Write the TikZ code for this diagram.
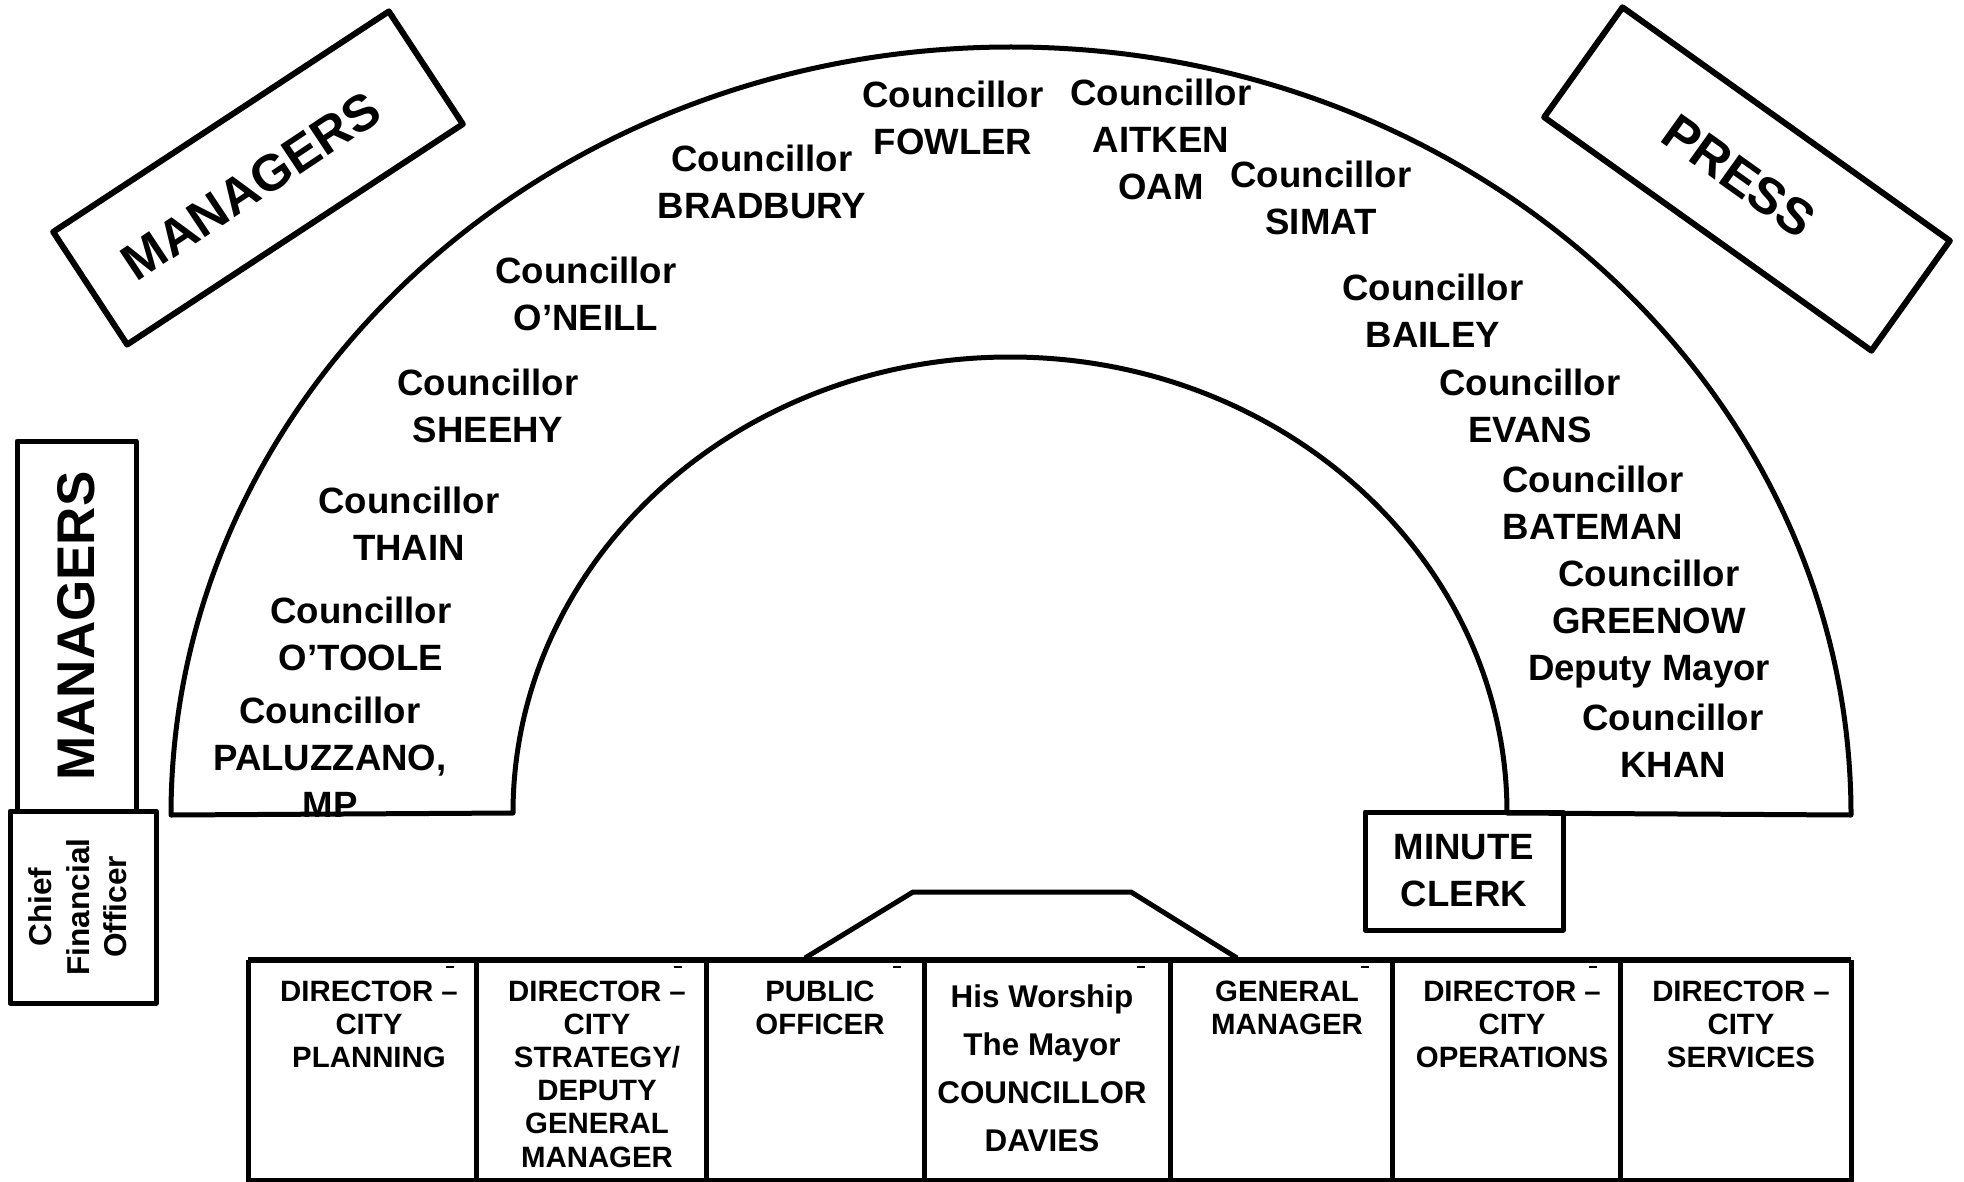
\documentclass[tikz,border=0pt]{standalone}
\usepackage{fontspec}
\setmainfont{Liberation Sans}
\usetikzlibrary{shapes}
\colorlet{penColor}{black}
\newcommand\seatfont{\fontsize{18.3}{23.5}\selectfont\bfseries}
\newcommand\deskfont{\fontsize{14.7}{16.6}\selectfont\bfseries}
\newcommand\mayorfont{\fontsize{15.7}{24}\selectfont\bfseries}
\newcommand\bigfont{\fontsize{25.5}{30}\selectfont\bfseries}
\newcommand\cfofont{\fontsize{15.8}{18.8}\selectfont\bfseries}
\tikzset{
  seat/.style={align=center,inner sep=0pt,font=\seatfont},
  desk/.style={align=center,inner sep=0pt,anchor=north,font=\deskfont},
  sidebox/.style={draw=penColor,line width=3pt,inner sep=0pt},
  sidetext/.style={inner sep=0pt,font=\bigfont},
}

\begin{document}
\begin{tikzpicture}[x=0.5pt,y=-0.5pt,line width=2.5pt,line join=round]
  \useasboundingbox (0,0) rectangle (1964,1182);

  % chamber
  \coordinate (O1) at (171,815);
  \coordinate (O2) at (1851,815);
  \coordinate (I1) at (513,813);
  \coordinate (I2) at (1507,813);
  \draw[penColor] (O1) arc[start angle=180,end angle=360,x radius=840,y radius=768]
    -- (I2) arc[start angle=360,end angle=180,x radius=497,y radius=456] -- cycle;

  % side boxes
  \node[sidebox,rotate=33.3,minimum width=200.8pt,minimum height=67.4pt] (mgrTilt) at (258,178) {};
  \node[sidetext,rotate=33.6] (mgrTiltText) at (251,186) {MANAGERS};
  \node[sidebox,rotate=-35.5,minimum width=201pt,minimum height=67.5pt] (press) at (1747,179) {};
  \node[sidetext,rotate=-35.5] (pressText) at (1739,176) {PRESS};
  \node[sidebox,line width=2.5pt,rotate=90,minimum width=185pt,minimum height=59.5pt,font=\fontsize{26.5}{30}\selectfont\bfseries] (mgrSide) at (76.5,626) {MANAGERS};
  \draw[penColor] (10,811) rectangle (156,1003);
  \node[rotate=90,align=center,inner sep=0pt,font=\cfofont] (cfo) at (78,907) {Chief\\Financial\\Officer};
  \node[draw=penColor,inner sep=0pt,minimum width=99pt,minimum height=59pt,align=center,font=\seatfont] (clerk) at (1464,871) {MINUTE\\CLERK};

  % seats
  \node[seat] (fowler) at (953,118) {Councillor\\FOWLER};
  \node[seat] (aitken) at (1161,139) {Councillor\\AITKEN\\OAM};
  \node[seat] (bradbury) at (762,182) {Councillor\\BRADBURY};
  \node[seat] (simat) at (1321,198) {Councillor\\SIMAT};
  \node[seat] (oneill) at (586,294) {Councillor\\O’NEILL};
  \node[seat] (bailey) at (1433,311) {Councillor\\BAILEY};
  \node[seat] (sheehy) at (488,406) {Councillor\\SHEEHY};
  \node[seat] (evans) at (1530,406) {Councillor\\EVANS};
  \node[seat] (thain) at (409,524) {Councillor\\THAIN};
  \node[seat] (bateman) at (1593,503) {Councillor\\BATEMAN};
  \node[seat] (otoole) at (361,634) {Councillor\\O’TOOLE};
  \node[seat] (greenow) at (1649,624) {Councillor\\GREENOW\\Deputy Mayor};
  \node[seat] (paluzzano) at (330,757) {Councillor\\PALUZZANO,\\MP};
  \node[seat] (khan) at (1673,741) {Councillor\\KHAN};

  % top table
  \draw[penColor,line width=3.2pt] (248,960) -- (1851,960);
  \foreach \x in {248,476,706,924,1170,1392,1620,1851}
    \draw[penColor] (\x,960) -- (\x,1182);
  \draw[penColor,line width=2pt] (248,1180) -- (1851,1180);
  \draw[penColor] (805,958) -- (913,892) -- (1131,892) -- (1237,958);
  \foreach \x in {450,678,897,1141,1365,1593}
    \draw[penColor,line width=0.8pt] (\x-4,967) -- (\x+4,967);

  \node[desk] (planning) at (369,978) {DIRECTOR --\\CITY\\PLANNING};
  \node[desk] (strategy) at (597,978) {DIRECTOR --\\CITY\\STRATEGY/\\DEPUTY\\GENERAL\\MANAGER};
  \node[desk] (publicOff) at (820,978) {PUBLIC\\OFFICER};
  \node[desk,font=\mayorfont] (mayor) at (1042,982) {His Worship\\The Mayor\\COUNCILLOR\\DAVIES};
  \node[desk] (genMgr) at (1287,978) {GENERAL\\MANAGER};
  \node[desk] (operations) at (1512,978) {DIRECTOR --\\CITY\\OPERATIONS};
  \node[desk] (services) at (1741,978) {DIRECTOR --\\CITY\\SERVICES};
\end{tikzpicture}
\end{document}
